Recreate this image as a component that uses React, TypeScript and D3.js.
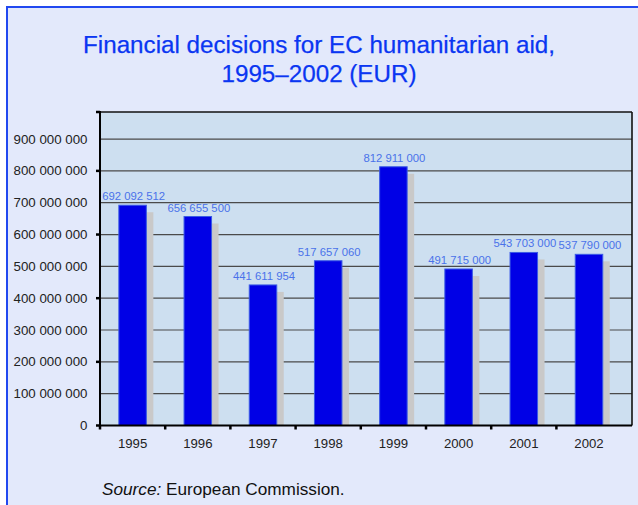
import React from "react";
import * as d3 from "d3";

const years = ["1995", "1996", "1997", "1998", "1999", "2000", "2001", "2002"];
const amounts = [692092512, 656655500, 441611954, 517657060, 812911000, 491715000, 543703000, 537790000];
const amountLabels = ["692 092 512", "656 655 500", "441 611 954", "517 657 060", "812 911 000", "491 715 000", "543 703 000", "537 790 000"];
const yTicks = [0, 100e6, 200e6, 300e6, 400e6, 500e6, 600e6, 700e6, 800e6, 900e6];
const majorTicks = [0, 200e6, 400e6, 600e6, 800e6];
const titleLines = ["Financial decisions for EC humanitarian aid,", "1995–2002 (EUR)"];

const W = 638;
const H = 505;
const plot = { left: 100, right: 632, top: 112, bottom: 425.5 };
const FONT = "'Liberation Sans', Arial, Helvetica, sans-serif";

const fmt = (v: number) =>
  v === 0 ? "0" : d3.format(",")(v).replace(/,/g, " ");

export default function App() {
  const x = d3.scaleBand<string>().domain(years).range([plot.left, 621.6]).padding(0);
  const y = d3.scaleLinear().domain([0, 985e6]).range([plot.bottom, plot.top]);
  const barW = 27.5;
  const shadow = 7;

  return (
    <svg width={W} height={H} style={{ position: "absolute", left: 0, top: 0 }} fontFamily={FONT}>
      {/* page frame */}
      <rect x={0} y={0} width={W} height={H} fill="#ffffff" />
      <rect x={7} y={7} width={W + 10} height={H + 10} fill="#e3e9fb" stroke="#2148f0" strokeWidth={2} />

      {/* title */}
      {titleLines.map((t, i) => (
        <text key={t} x={319} y={53 + i * 29} textAnchor="middle" fontSize={24.2} fill="#0a36f2" stroke="#0a36f2" strokeWidth={0.25}>
          {t}
        </text>
      ))}

      {/* plot area */}
      <rect x={plot.left} y={plot.top} width={plot.right - plot.left} height={plot.bottom - plot.top} fill="#cddff0" />

      {/* gridlines */}
      {yTicks.filter((t) => t > 0).map((t) => (
        <line key={t} x1={plot.left} x2={plot.right} y1={y(t)} y2={y(t)} stroke="#4a4a4a" strokeWidth={1.2} />
      ))}

      {/* bars with drop shadow */}
      {years.map((yr, i) => {
        const cx = (x(yr) as number) + x.bandwidth() / 2;
        const top = y(amounts[i]);
        return (
          <g key={yr}>
            <rect x={cx - barW / 2 + shadow} y={top + shadow} width={barW} height={plot.bottom - top - shadow} fill="#c9c9c9" />
            <rect x={cx - barW / 2} y={top} width={barW} height={plot.bottom - top} fill="#0000e6" stroke="#3a5ae6" strokeWidth={1} />
            <text x={cx + 1} y={top - 5} textAnchor="middle" fontSize={11.3} fill="#4a72ea">
              {amountLabels[i]}
            </text>
          </g>
        );
      })}

      {/* borders and axes */}
      <line x1={plot.left} x2={plot.right} y1={plot.top} y2={plot.top} stroke="#111" strokeWidth={1.6} />
      <line x1={plot.right} x2={plot.right} y1={plot.top} y2={plot.bottom} stroke="#111" strokeWidth={1.6} />
      <line x1={plot.left} x2={plot.left} y1={plot.top - 1} y2={plot.bottom + 1} stroke="#000" strokeWidth={2} />
      <line x1={plot.left - 1} x2={plot.right} y1={plot.bottom} y2={plot.bottom} stroke="#000" strokeWidth={2} />

      {/* y ticks and labels */}
      {majorTicks.map((t) => (
        <line key={t} x1={plot.left - 4} x2={plot.left} y1={y(t)} y2={y(t)} stroke="#000" strokeWidth={2.5} />
      ))}
      <line x1={plot.left - 4} x2={plot.left} y1={plot.top} y2={plot.top} stroke="#000" strokeWidth={2.5} />
      {yTicks.map((t) => (
        <text key={t} x={87.5} y={y(t) + 4.6} textAnchor="end" fontSize={13.3} fill="#222">
          {fmt(t)}
        </text>
      ))}

      {/* x ticks and labels */}
      {years.map((yr) => (
        <line key={yr} x1={x(yr) as number} x2={x(yr) as number} y1={plot.bottom} y2={plot.bottom + 4} stroke="#000" strokeWidth={2.5} />
      ))}
      {years.map((yr) => (
        <text key={yr} x={(x(yr) as number) + x.bandwidth() / 2} y={447.5} textAnchor="middle" fontSize={13.2} fill="#222">
          {yr}
        </text>
      ))}

      {/* source note */}
      <text x={102} y={495} fontSize={17.2} fill="#111">
        <tspan fontStyle="italic">Source:</tspan>
        <tspan> European Commission.</tspan>
      </text>
    </svg>
  );
}
